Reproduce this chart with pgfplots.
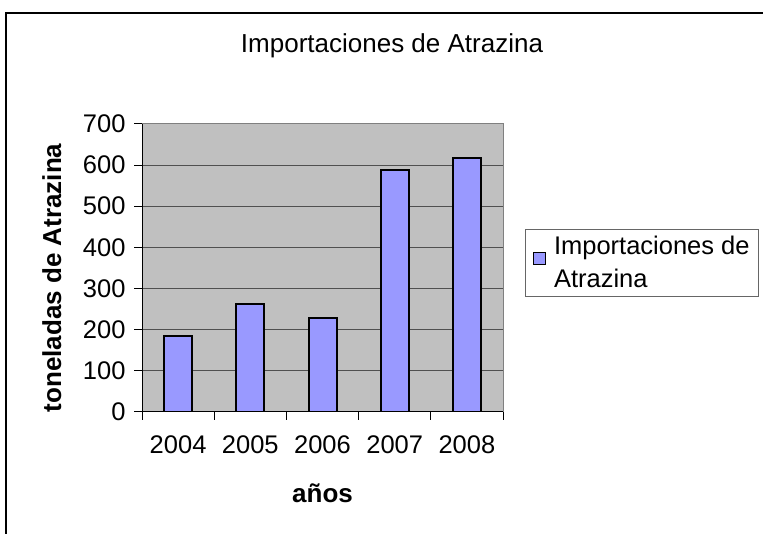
\documentclass[border=0pt]{standalone}
\usepackage{fontspec}
\setmainfont{Liberation Sans}
\usepackage{pgfplots}
\pgfplotsset{compat=1.18}
\definecolor{barfill}{RGB}{153,153,255}
\definecolor{plotbg}{RGB}{192,192,192}
\definecolor{gridc}{RGB}{80,80,80}
\begin{document}
\begin{tikzpicture}[x=1pt,y=1pt]
\useasboundingbox (0,0) rectangle (763,533);
\draw[line width=2pt] (6,-5) -- (6,520) -- (770,520);
\node[font=\fontsize{26}{30}\selectfont] at (392,487) {Importaciones de Atrazina};
\begin{axis}[
  at={(142pt,121.3pt)}, anchor=south west,
  scale only axis, width=361pt, height=287.7pt,
  xmin=-0.5, xmax=4.5, ymin=0, ymax=700,
  ybar, bar width=28pt,
  axis background/.style={fill=plotbg},
  axis x line*=bottom, axis y line*=left,
  axis line style={black, line width=1pt},
  xtick={-0.5,0.5,...,4.5},
  x tick label as interval,
  xticklabels={2004,2005,2006,2007,2008},
  ytick={0,100,...,700},
  /pgf/number format/assume math mode=true,
  tick align=outside,
  major tick length=8pt,
  tick style={black, line width=1pt},
  ymajorgrids,
  major grid style={gridc, line width=1pt},
  tick label style={font=\fontsize{25.5}{30}\selectfont},
  xticklabel style={yshift=-12pt},
  yticklabel style={xshift=-5pt},
  xlabel={\bfseries años},
  ylabel={\bfseries toneladas de Atrazina},
  label style={font=\fontsize{26}{30}\selectfont},
  xlabel style={at={(axis description cs:0.5,-0.285)}, anchor=center},
  ylabel style={at={(axis description cs:-0.25,0.465)}, anchor=center},
  legend style={at={(axis description cs:1.061,0.635)}, anchor=north west,
    draw=black!60, line width=1pt, font=\fontsize{25.5}{33}\selectfont,
    nodes={align=left}, inner xsep=7pt, inner ysep=5pt},
  legend cell align=left,
  legend image code/.code={
    \path[draw=none, fill=none] (4pt,0pt) -- (23pt,0pt);
    \draw[fill=barfill, draw=black, line width=1pt] (4pt,-1pt) rectangle (16pt,11pt);},
  after end axis/.code={
    \draw[black!50, line width=1pt] (rel axis cs:0,1) -- (rel axis cs:1,1) -- (rel axis cs:1,0);},
]
\addplot[fill=barfill, draw=black, line width=2pt] coordinates {
  (0,184) (1,263) (2,229) (3,588) (4,617)
};
\addlegendentry{Importaciones de\\Atrazina}
\end{axis}
\end{tikzpicture}
\end{document}
